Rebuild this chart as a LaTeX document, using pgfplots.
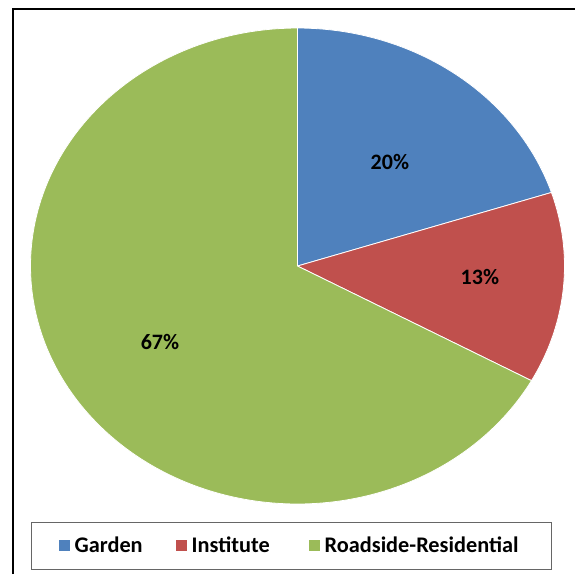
\documentclass[border=0pt]{standalone}
\usepackage{fontspec}
\setmainfont{Carlito}
\usepackage{pgfplots}
\pgfplotsset{compat=1.18}

\definecolor{garden}{HTML}{4F81BD}
\definecolor{institute}{HTML}{C0504D}
\definecolor{roadside}{HTML}{9BBB59}

% shares in percent: Garden 20, Institute 13, Roadside-Residential 67
% slices start at 90 deg and run clockwise, 3.6 deg per percent

\begin{document}
\begin{tikzpicture}
\path[use as bounding box] (0pt,0pt) rectangle (575pt,-574pt);
\draw[line width=2.2pt] (13pt,-574pt) -- (13pt,-9pt) -- (575pt,-9pt);

\begin{axis}[
	at={(297.5pt,-266pt)}, anchor=center,
	scale only axis,
	width=534pt, height=476pt,
	xmin=-1, xmax=1, ymin=-1, ymax=1,
	hide axis, clip=false,
	area legend,
	legend image code/.code={\fill[#1,draw=none] (0pt,-5.5pt) rectangle (11pt,5.5pt);},
	legend columns=3,
	legend style={
		at={(0.488,-0.088)}, anchor=center,
		draw=black!60, line width=0.8pt,
		font=\bfseries\fontsize{22.3}{26}\selectfont,
		inner xsep=28pt, inner ysep=13pt,
		nodes={inner xsep=4.5pt},
		/tikz/column 2/.style={column sep=29pt},
		/tikz/column 4/.style={column sep=35pt},
	},
]
\addplot[fill=garden, draw=white, line width=0.8pt, domain=18:90, samples=80, variable=\t]
	({cos(t)}, {sin(t)}) -- (axis cs:0,0) -- cycle;
\addplot[fill=institute, draw=white, line width=0.8pt, domain=-28.8:18, samples=60, variable=\t]
	({cos(t)}, {sin(t)}) -- (axis cs:0,0) -- cycle;
\addplot[fill=roadside, draw=white, line width=0.8pt, domain=-270:-28.8, samples=200, variable=\t]
	({cos(t)}, {sin(t)}) -- (axis cs:0,0) -- cycle;
\legend{Garden, Institute, Roadside-Residential}

\begin{scope}[font=\bfseries\fontsize{22}{26}\selectfont, text=black]
\node at (axis cs:0.346,0.437) {20\%};
\node at (axis cs:0.683,-0.046) {13\%};
\node at (axis cs:-0.515,-0.319) {67\%};
\end{scope}
\end{axis}
\end{tikzpicture}
\end{document}
